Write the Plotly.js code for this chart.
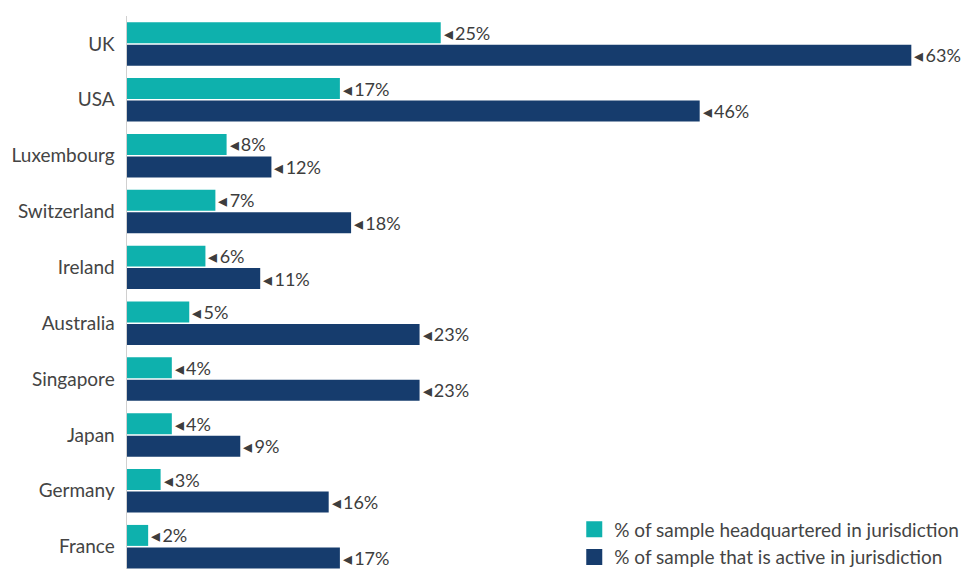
<!DOCTYPE html>
<html><head><meta charset="utf-8">
<script src="https://cdn.plot.ly/plotly-3.0.1.min.js"></script>
<style>html,body{margin:0;padding:0;background:#fff}</style>
</head><body>
<div id="chart" style="width:963px;height:569px"></div>
<script>
const countries = ["UK","USA","Luxembourg","Switzerland","Ireland","Australia","Singapore","Japan","Germany","France"];
// bar lengths (percent)
const headquartered = [25.2,17.1,8.0,7.1,6.3,5.0,3.6,3.6,2.7,1.7];
const active = [63.0,46.0,11.6,18.0,10.7,23.5,23.5,9.1,16.2,17.1];
// printed labels
const headquarteredLabels = ["25%","17%","8%","7%","6%","5%","4%","4%","3%","2%"];
const activeLabels = ["63%","46%","12%","18%","11%","23%","23%","9%","16%","17%"];
const seriesNames = ["% of sample headquartered in jurisdiction","% of sample that is active in jurisdiction"];
const seriesColors = ["#0eb1ad","#163c6d"];

const font = "Lato, 'Open Sans', sans-serif";
const mk = (vals, labels, name, color) => ({
  type: "bar", orientation: "h", x: vals, y: countries, name: name,
  marker: {color: color}, showlegend: false,
  text: labels.map(t => "\u25C2\u2009" + t),
  textposition: "outside", cliponaxis: false, constraintext: "none",
  textfont: {family: font, size: 18, color: "#3d3d3d"},
  hoverinfo: "skip"
});
const legendItem = (name, color) => ({
  type: "scatter", mode: "markers", x: [null], y: [null], name: name,
  marker: {symbol: "square", size: 16, color: color}, showlegend: true, hoverinfo: "skip"
});
const data = [
  mk(headquartered, headquarteredLabels, seriesNames[0], seriesColors[0]),
  mk(active, activeLabels, seriesNames[1], seriesColors[1]),
  legendItem(seriesNames[0], seriesColors[0]),
  legendItem(seriesNames[1], seriesColors[1])
];
const layout = {
  width: 963, height: 569,
  margin: {l: 127, r: 0, t: 15.5, b: 0, autoexpand: false},
  barmode: "group", bargap: 0.195, bargroupgap: 0.067,
  paper_bgcolor: "#fff", plot_bgcolor: "#fff",
  font: {family: font, size: 19, color: "#444"},
  xaxis: {range: [0, 67.15], visible: false, fixedrange: true},
  yaxis: {
    type: "category", categoryorder: "array", categoryarray: countries,
    range: [9.4, -0.5], showline: true, linecolor: "#d0d0d0", linewidth: 1.5,
    showgrid: false, zeroline: false, ticks: "", ticklabelstandoff: 7,
    tickfont: {family: font, size: 19, color: "#444"}
  },
  showlegend: true,
  legend: {x: 0.535, xanchor: "left", y: -0.0135, yanchor: "bottom",
    font: {family: font, size: 19, color: "#444"}, traceorder: "normal",
    itemwidth: 30, tracegroupgap: 0, bgcolor: "rgba(0,0,0,0)"}
};
Plotly.newPlot("chart", data, layout, {displayModeBar: false, staticPlot: true});
</script>
</body></html>
